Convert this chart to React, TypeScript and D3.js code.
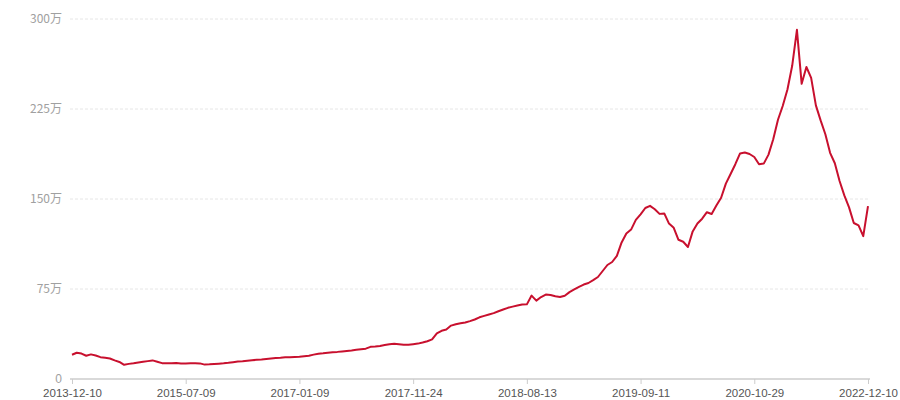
import * as d3 from 'd3';
import {useEffect, useRef} from 'react';

// x-axis labels, shown every 24 points
const tickDates = [
    '2013-12-10',
    '2015-07-09',
    '2017-01-09',
    '2017-11-24',
    '2018-08-13',
    '2019-09-11',
    '2020-10-29',
    '2022-12-10',
];

const yTicks = [0, 75, 150, 225, 300];

// values in 万
const values = [
    20.2, 21.9, 21.2, 19.4, 20.5, 19.6, 18.2, 17.7, 17.1, 15.5,
    14.2, 11.8, 12.6, 13.1, 13.7, 14.3, 14.9, 15.5, 14.4, 13.2,
    13.2, 13.1, 13.3, 13.0, 12.9, 13.1, 13.2, 13.0, 12.0, 12.2,
    12.5, 12.8, 13.1, 13.5, 14.0, 14.5, 14.8, 15.2, 15.6, 16.0,
    16.3, 16.7, 17.1, 17.4, 17.7, 18.1, 18.2, 18.4, 18.6, 19.0,
    19.4, 20.3, 21.0, 21.4, 21.9, 22.3, 22.6, 23.0, 23.4, 23.8,
    24.3, 24.8, 25.3, 26.8, 27.1, 27.5, 28.3, 29.0, 29.4, 29.0,
    28.6, 28.5, 29.0, 29.5, 30.4, 31.5, 33.0, 38.0, 40.2, 41.2,
    44.5, 45.6, 46.4, 47.1, 48.2, 49.6, 51.4, 52.6, 53.8, 54.9,
    56.5, 57.9, 59.3, 60.3, 61.2, 62.0, 62.2, 69.5, 65.3, 68.3,
    70.4, 70.0, 68.9, 68.4, 69.4, 72.4, 74.6, 76.8, 78.7, 80.0,
    82.4, 85.0, 90.0, 95.0, 97.5, 102.6, 113.8, 121.2, 124.5, 132.6,
    137.2, 142.5, 144.3, 141.5, 137.6, 138.0, 129.5, 126.0, 116.0, 114.4,
    110.0, 123.0, 129.6, 133.6, 139.0, 137.5, 144.5, 151.0, 162.8, 170.8,
    179.0, 188.0, 188.8, 187.5, 185.0, 179.0, 179.5, 187.0, 199.8, 216.0,
    227.5, 241.2, 261.0, 291.0, 246.0, 260.0, 251.0, 228.0, 215.5, 204.0,
    188.5, 179.8, 165.0, 153.0, 143.0, 130.0, 128.0, 119.0, 144.0,
];

const width = 900;
const height = 400;
const margins = {top: 19, right: 32, bottom: 21, left: 72};
const font = "'Microsoft YaHei', 'Noto Sans CJK SC', sans-serif";
const digitFont = "'Liberation Sans', Arial, sans-serif";

export default function App() {
    const ref = useRef<SVGSVGElement>(null);

    useEffect(() => {
        const svg = d3.select(ref.current);
        svg.selectAll('*').remove();

        const step = (values.length - 1) / (tickDates.length - 1);

        const xScale = d3
            .scaleLinear()
            .domain([0, values.length - 1])
            .range([margins.left, width - margins.right]);

        const yScale = d3
            .scaleLinear()
            .domain([0, 300])
            .range([height - margins.bottom, margins.top]);

        // dashed grid lines
        svg.append('g')
            .selectAll('line')
            .data(yTicks.filter((d) => d > 0))
            .join('line')
            .attr('x1', margins.left - 2)
            .attr('x2', width - margins.right + 2)
            .attr('y1', (d) => yScale(d))
            .attr('y2', (d) => yScale(d))
            .attr('stroke', '#e6e6e6')
            .attr('stroke-dasharray', '3 2');

        // y labels
        svg.append('g')
            .selectAll('text')
            .data(yTicks)
            .join('text')
            .attr('x', margins.left - 10)
            .attr('y', (d) => yScale(d))
            .attr('dy', '0.35em')
            .attr('text-anchor', 'end')
            .attr('fill', '#a0a0a0')
            .style('font', (d) => `12px ${d === 0 ? digitFont : font}`)
            .text((d) => (d === 0 ? '0' : `${d}万`));

        // x axis
        const xAxis = d3
            .axisBottom(xScale)
            .tickValues(tickDates.map((_, i) => i * step))
            .tickFormat((_, i) => tickDates[i])
            .tickSize(5)
            .tickSizeOuter(0);

        const gx = svg
            .append('g')
            .attr('transform', `translate(0, ${height - margins.bottom})`)
            .call(xAxis);
        gx.select('.domain')
            .attr('stroke', '#cccccc')
            .attr('stroke-width', 1.5)
            .attr('d', `M${margins.left - 2},0H${width - margins.right + 2}`);
        gx.selectAll('.tick line').attr('stroke', '#cccccc');
        gx.selectAll('.tick text')
            .attr('fill', '#555555')
            .attr('y', 10)
            .style('font', `11.5px ${digitFont}`);

        const line = d3
            .line<number>()
            .x((_, i) => xScale(i))
            .y((d) => yScale(d));

        svg.append('path')
            .datum(values)
            .attr('d', line)
            .attr('fill', 'none')
            .attr('stroke', '#c8102e')
            .attr('stroke-width', 2)
            .attr('stroke-linejoin', 'round');
    }, []);

    return (
        <div style={{position: 'absolute', left: 0, top: 0}}>
            <svg ref={ref} width={width} height={height}></svg>
        </div>
    );
}
